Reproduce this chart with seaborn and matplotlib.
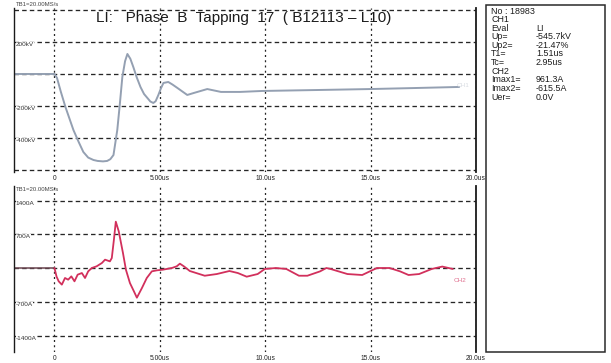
import numpy as np
import pandas as pd
import matplotlib
matplotlib.use("Agg")
import matplotlib.pyplot as plt
import matplotlib.transforms as mtransforms
from matplotlib.patches import Rectangle
import seaborn as sns

# ---- recorded traces -------------------------------------------------------
# CH1: applied lightning-impulse voltage (kV) vs time (us)
volt_t = [-1.92, 0.0, 0.12, 0.3, 0.52, 0.9, 1.15, 1.37, 1.6, 1.85, 2.05, 2.3,
          2.5, 2.65, 2.8, 2.98, 3.1, 3.22, 3.35, 3.46, 3.6, 3.74, 3.9, 4.08,
          4.25, 4.41, 4.55, 4.69, 4.8, 4.93, 5.05, 5.17, 5.4, 5.6, 5.83,
          6.3, 6.6, 7.25, 7.9, 8.8, 9.86, 12.5, 15.0, 17.0, 19.2]
volt_kv = [0, 0, -25, -110, -206, -350, -425, -487, -522, -537, -543, -545.7,
           -543, -532, -506, -350, -190, -19, 80, 125, 95, 44, -20, -81,
           -125, -150, -172, -181, -170, -131, -90, -56, -50, -66, -87,
           -131, -119, -94, -112, -112, -106, -100, -94, -88, -81]

# CH2: tap current (A) vs time (us)
curr_t = [-1.92, 0.0, 0.1, 0.2, 0.35, 0.5, 0.65, 0.8, 0.95, 1.1, 1.3, 1.45,
          1.6, 1.77, 2.0, 2.25, 2.4, 2.63, 2.72, 2.82, 2.91, 3.05, 3.25, 3.39,
          3.58, 3.77, 3.91, 4.15, 4.38, 4.62, 4.86, 5.14, 5.57, 5.8, 5.95,
          6.14, 6.42, 7.13, 7.7, 8.3, 8.7, 9.12, 9.64, 9.98, 10.5, 11.0,
          11.6, 12.0, 12.6, 12.9, 13.1, 13.9, 14.6, 14.96, 15.3, 15.9, 16.4,
          16.8, 17.3, 17.9, 18.4, 18.9]
curr_a = [0, 0, -180, -276, -345, -207, -242, -173, -276, -138, -104, -207,
          -69, 0, 35, 104, 173, 138, 207, 587, 961.3, 760, 311, -35,
          -311, -484, -615.5, -415, -207, -69, -48, -35, 0, 35, 90,
          35, -62, -160, -125, -62, -104, -180, -125, -20, 0, -20,
          -160, -160, -70, 0, -20, -125, -145, -70, 0, 0, -70,
          -145, -125, -20, 30, -20]

time_ticks = [0, 5, 10, 15, 20]
time_labels = ["0", "5.00us", "10.0us", "15.0us", "20.0us"]
volt_grid = [400, 200, 0, -200, -400, -600]
volt_label_vals = [200, -200, -400]
volt_label_txt = ["200kV", "-200kV", "-400kV"]
curr_grid = [1400, 700, 0, -700, -1400]
curr_label_vals = [1400, 700, -700, -1400]
curr_label_txt = ["1400A", "700A", "-700A", "-1400A"]

info_keys = ["No : 18983", "CH1", "Eval", "Up=", "Up2=", "T1=", "Tc=", "CH2",
             "Imax1=", "Imax2=", "Uer="]
info_vals = ["", "", "LI", "-545.7kV", "-21.47%", "1.51us", "2.95us", "",
             "961.3A", "-615.5A", "0.0V"]

title_txt = "LI:   Phase  B  Tapping  17  ( B12113 \u2013 L10)"

# ---- styling ---------------------------------------------------------------
sns.set_theme(style="white")
plt.rcParams["font.family"] = ["Liberation Sans", "DejaVu Sans"]
plt.rcParams["lines.solid_joinstyle"] = "round"
plt.rcParams["lines.solid_capstyle"] = "round"

W, H = 611, 363
fig = plt.figure(figsize=(W / 100, H / 100), dpi=100)
fig.patch.set_facecolor("white")


def px_axes(x0, y0, x1, y1):
    return fig.add_axes([x0 / W, 1 - y1 / H, (x1 - x0) / W, (y1 - y0) / H])


ax_v = px_axes(14, 8, 476, 172)
ax_i = px_axes(14, 186, 476, 352)

volt_df = pd.DataFrame({"t": volt_t, "kV": volt_kv})
curr_df = pd.DataFrame({"t": curr_t, "A": curr_a})

grid_col = "#262626"
for ax, grid_vals in ((ax_v, volt_grid), (ax_i, curr_grid)):
    ax.set_facecolor("white")
    ax.set_xlim(-1.92, 20)
    ax.set_xticks(time_ticks)
    ax.set_yticks(grid_vals)
    ax.xaxis.grid(True, color=grid_col, linestyle=(0, (1.6, 2.6)), linewidth=0.9)
    ax.yaxis.grid(True, color=grid_col, linestyle=(0, (3.4, 2.4)), linewidth=0.95)
    ax.set_axisbelow(True)
    for side in ("top", "bottom"):
        ax.spines[side].set_visible(False)
    ax.spines["left"].set_color("#1a1a1a")
    ax.spines["left"].set_linewidth(1.0)
    ax.spines["right"].set_color("#1a1a1a")
    ax.spines["right"].set_linewidth(1.3)
    ax.tick_params(axis="y", left=False, labelleft=False)
    ax.tick_params(axis="x", bottom=False, length=0, pad=2.2,
                   labelsize=4.8, labelcolor="#222222")
    ax.set_xticklabels(time_labels)

ax_v.set_ylim(-612, 412)
ax_i.set_ylim(-1742, 1701)

# traces
sns.lineplot(data=volt_df, x="t", y="kV", ax=ax_v, color="#94a0b2",
             linewidth=1.4, estimator=None, sort=False, legend=False)
pre_i = curr_df[curr_df["t"] <= 0]
sns.lineplot(data=pre_i, x="t", y="A", ax=ax_i, color="#6b4550",
             linewidth=1.1, estimator=None, sort=False, legend=False)
sns.lineplot(data=curr_df[curr_df["t"] >= 0], x="t", y="A", ax=ax_i,
             color="#d2305c", linewidth=1.3, estimator=None, sort=False,
             legend=False)
for ax in (ax_v, ax_i):
    ax.set_xlabel("")
    ax.set_ylabel("")

# amplitude labels on the left edge
for ax, vals, txts in ((ax_v, volt_label_vals, volt_label_txt),
                       (ax_i, curr_label_vals, curr_label_txt)):
    trans = mtransforms.blended_transform_factory(ax.transAxes, ax.transData)
    for v, s in zip(vals, txts):
        ax.text(0.004, v, s, transform=trans, fontsize=4.6, color="#333333",
                ha="left", va="top",
                bbox=dict(facecolor="white", edgecolor="none", pad=0.2))

ax_i.text(18.95, -260, "CH2", fontsize=4.6, color="#e0708f",
          ha="left", va="center")
ax_v.text(19.1, -70, "CH1", fontsize=4.6, color="#d8dce2",
          ha="left", va="center")

# timebase notes
fig.text(16 / W, 1 - 5 / H, "TB1=20.00MS/s", fontsize=4.3, color="#444444",
         ha="left", va="center",
         bbox=dict(facecolor="white", edgecolor="none", pad=0.2))
fig.text(16 / W, 1 - 190 / H, "TB1=20.00MS/s", fontsize=4.3, color="#444444",
         ha="left", va="center")

# title
fig.text(244 / W, 1 - 18 / H, title_txt, fontsize=11, color="#1c1c1c",
         ha="center", va="center")

# measurement summary box
fig.patches.append(Rectangle((486 / W, 1 - 352 / H), (605 - 486) / W,
                             (352 - 5) / H, transform=fig.transFigure,
                             facecolor="white", edgecolor="#2a2a2a",
                             linewidth=1.1))
for k, (key, val) in enumerate(zip(info_keys, info_vals)):
    y = 1 - (11 + 8.6 * k) / H
    fig.text(491 / W, y, key, fontsize=6.4, color="#1c1c1c",
             ha="left", va="center")
    if val:
        fig.text(536 / W, y, val, fontsize=6.4, color="#1c1c1c",
                 ha="left", va="center")

fig.savefig("out.png", dpi=100, facecolor="white")
